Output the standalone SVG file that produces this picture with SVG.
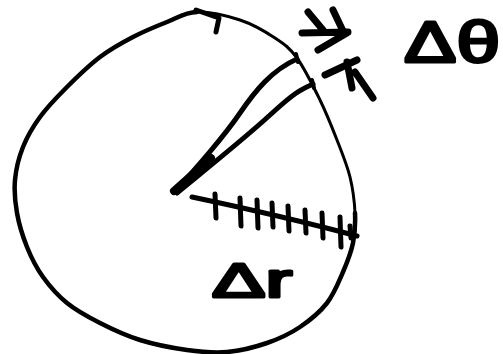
<svg xmlns="http://www.w3.org/2000/svg" width="503" height="354" viewBox="0 0 503 354">
<style>
.ink{fill:none;stroke:#000;stroke-linecap:round;stroke-linejoin:round}
.lbl{font-family:"Liberation Sans",Arial,sans-serif;font-weight:normal;fill:#000;stroke:#000;stroke-width:3;stroke-linejoin:round;stroke-linecap:round}
</style>
<rect width="503" height="354" fill="#fff"/>
<g id="circle">
<path class="ink" stroke-width="3" d="M197,12 C209.2,11.7 227,15.7 240,20 S265.5,31.7 275,38 S289.5,47.7 297,58 S313.3,86.3 320,100 S332,127.2 337,140 S347,164.8 350,177 S354.5,202 355,213"/>
<path class="ink" stroke-width="4.5" d="M355,213 C355.5,224 355,233.2 353,243 S347.3,262 343,272 S334.2,293.8 327,303 S310,320.3 300,327 S279.2,338.8 267,343 S240.3,350.8 227,352 S201.5,352 187,350 S154.5,344.5 140,340 S112.2,329.2 100,323 S76.5,310.7 67,303 S49.7,286.3 43,277 S31.3,257.7 27,247 S19,224.2 17,213 S14,191 15,180 S18.8,157.5 23,147 S32.7,127 40,117 S57,97 67,87 S89,65.3 100,57 S121.8,42.8 133,37 S156.3,26.2 167,22 S184.8,12.3 197,12"/>
<path class="ink" stroke-width="5" d="M196,10 L219,18 L216,32"/>
</g>
<g id="wedge">
<path class="ink" stroke-width="5" d="M175,191 C195,170 225,135 240,113 S272,70 297,59"/>
<path class="ink" stroke-width="5" d="M177,193 C205,170 245,138 270,115 S300,90 313,84"/>
<path class="ink" stroke-width="8" d="M174,191 L211,158"/>
<path class="ink" stroke-width="4" d="M296,54 L298,62 M312,80 L314,88"/>
</g>
<g id="dtheta-arrows">
<path class="ink" stroke-width="7" d="M302,33 L348,32 M308,12 L323,30 M333,10 L343,31 M318,50 L347,33"/>
<path class="ink" stroke-width="7" d="M325,75 L357,60 M347,62 L352,88 M355,72 L373,98"/>
</g>
<g id="dr-line">
<path class="ink" stroke-width="5" d="M192,197 C230,205 290,218 357,236"/>
<path class="ink" stroke-width="5" d="M215,194 L216,218 M240,198 L241,226 M257,200 L258,228 M272,203 L273,227 M288,206 L289,231 M305,210 L306,233 M322,213 L323,238 M340,217 L341,247 M350,226 L351,238"/>
</g>
<g id="labels">
<text class="lbl" x="404" y="62" font-size="58" textLength="96" lengthAdjust="spacingAndGlyphs">Δθ</text>
<text class="lbl" x="212" y="297" font-size="48" textLength="80" lengthAdjust="spacingAndGlyphs">Δr</text>
</g>
</svg>
